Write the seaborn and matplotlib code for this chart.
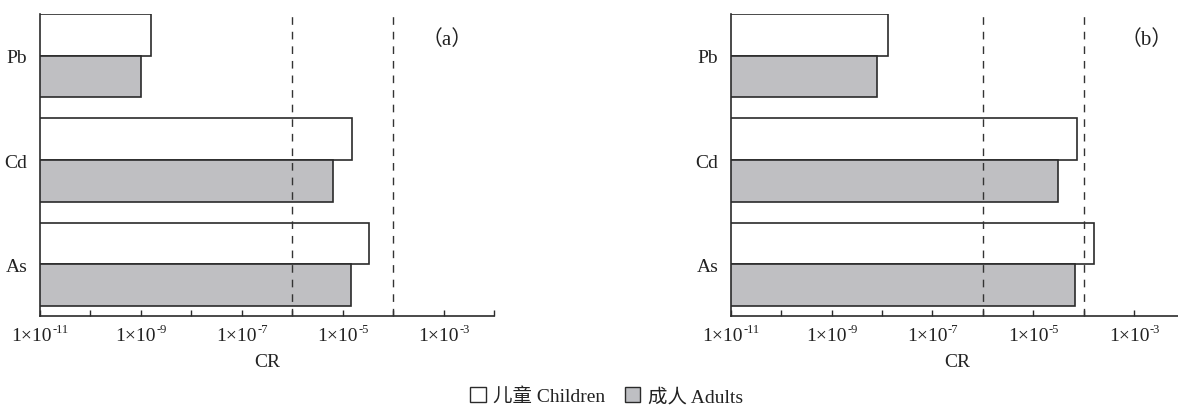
import numpy as np
import pandas as pd
import matplotlib
matplotlib.use("Agg")
import matplotlib.pyplot as plt
import seaborn as sns
from matplotlib.patches import Patch
from matplotlib.ticker import FixedLocator, NullFormatter

# ---- data ----
metals = ["Pb", "Cd", "As"]
groups = ["儿童 Children", "成人 Adults"]
cr_a_children = [1.6e-9, 1.5e-5, 3.4e-5]
cr_a_adults = [1.0e-9, 6.5e-6, 1.45e-5]
cr_b_children = [1.3e-8, 7.2e-5, 1.56e-4]
cr_b_adults = [8.0e-9, 3.1e-5, 6.7e-5]
thresholds = [1e-6, 1e-4]
panel_labels = ["（a）", "（b）"]
tick_exps = list(range(-11, -1))
label_exps = [-11, -9, -7, -5, -3]

sns.set_theme(style="white")
plt.rcParams["font.family"] = ["Liberation Serif", "Noto Sans CJK SC"]

grey = "#bebfc3"
edge = "#2b2b2b"
txt = "#222222"

fig = plt.figure(figsize=(11.78, 4.06), dpi=100)
W, H = 1178, 406
ax_w = 454 / W
ax_b = (H - 316.7) / H
ax_h = 301.7 / H
axes = [fig.add_axes([40 / W, ax_b, ax_w, ax_h]),
        fig.add_axes([730.7 / W, ax_b, ax_w, ax_h])]

pairs = []
for ax, ch, ad, lab, lx in zip(axes, [cr_a_children, cr_b_children],
                               [cr_a_adults, cr_b_adults], panel_labels,
                               [0.896, 0.915]):
    df = pd.DataFrame({
        "metal": metals * 2,
        "CR": list(ch) + list(ad),
        "group": [groups[0]] * 3 + [groups[1]] * 3,
    })
    sns.barplot(data=df, y="metal", x="CR", hue="group", order=metals,
                hue_order=groups, palette=["white", grey], edgecolor=edge,
                linewidth=1.2, width=0.8, log_scale=(True, False),
                legend=False, ax=ax, zorder=2)
    for t in thresholds:
        ax.axvline(t, color="#333333", lw=1.0, ls=(0, (5.5, 5)), zorder=3)
    ax.set_xscale("log")
    ax.set_xlim(1e-11, 1e-2)
    ax.set_ylim(2.493, -0.4)
    ax.xaxis.set_major_locator(FixedLocator([10.0 ** e for e in tick_exps]))
    ax.xaxis.set_minor_locator(FixedLocator([]))
    ax.xaxis.set_major_formatter(NullFormatter())
    ax.xaxis.set_minor_formatter(NullFormatter())
    ax.tick_params(axis="x", direction="in", length=4.5, width=1.0,
                   color=edge, bottom=True)
    xt = ax.get_xaxis_transform()
    for e in label_exps:
        main = ax.annotate("1×10", xy=(10.0 ** e, 0), xycoords=xt,
                           xytext=(0, -17.5), textcoords="offset points",
                           ha="right", va="baseline", fontsize=14, color=txt,
                           annotation_clip=False)
        sup = ax.annotate("-%d" % abs(e), xy=(10.0 ** e, 0), xycoords=xt,
                          xytext=(0, -12.0), textcoords="offset points",
                          ha="left", va="baseline", fontsize=9, color=txt,
                          annotation_clip=False)
        pairs.append((main, sup))
    ax.tick_params(axis="y", length=0, pad=9, labelsize=14, labelcolor=txt)
    ax.set_ylabel("")
    ax.set_xlabel("CR", fontsize=14, color=txt)
    ax.xaxis.set_label_coords(0.5, -0.125)
    for s in ["top", "right"]:
        ax.spines[s].set_visible(False)
    for s in ["left", "bottom"]:
        ax.spines[s].set_color(edge)
        ax.spines[s].set_linewidth(1.2)
    ax.text(lx, 0.917, lab, transform=ax.transAxes, fontsize=15,
            color=txt, ha="center", va="center")

# centre each "1×10" + exponent pair on its tick
renderer = fig.canvas.get_renderer()
pt_per_px = 72.0 / fig.dpi
for main, sup in pairs:
    wm = main.get_window_extent(renderer).width
    ws = sup.get_window_extent(renderer).width
    shift = (wm - ws) / 2.0 * pt_per_px
    main.xyann = (shift, main.xyann[1])
    sup.xyann = (shift + 0.3, sup.xyann[1])

handles = [Patch(facecolor="white", edgecolor=edge, linewidth=1.0),
           Patch(facecolor=grey, edgecolor=edge, linewidth=1.0)]
fig.legend(handles, groups, loc="center", bbox_to_anchor=(0.515, 1 - 397 / H),
           ncol=2, frameon=False, fontsize=14, handlelength=0.8,
           handleheight=0.8, handletextpad=0.4, columnspacing=1.0,
           labelcolor=txt)

fig.savefig("out.png", dpi=100)
